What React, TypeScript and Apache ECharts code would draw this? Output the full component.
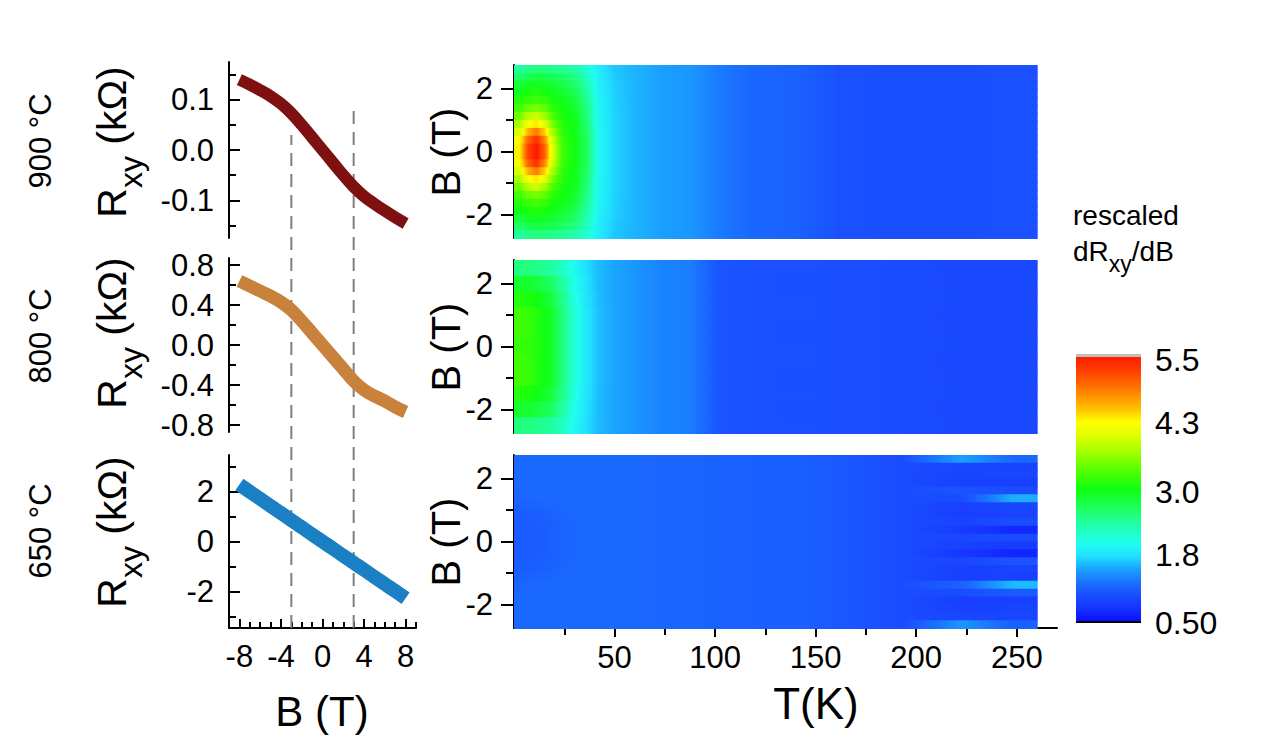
import { useEffect, useRef } from 'react';
import * as echarts from 'echarts';

const FONT = '"Liberation Sans", Arial, Helvetica, sans-serif';

// ---------- Left column: Hall resistance R_xy (kΩ) vs B (T) ----------
const fieldB = [-8, -7, -6, -5, -4, -3, -2, -1, 0, 1, 2, 3, 4, 5, 6, 7, 8];
const rxy900 = [0.140, 0.130, 0.119, 0.107, 0.092, 0.073, 0.050, 0.025, 0.000, -0.025, -0.050, -0.073, -0.092, -0.107, -0.121, -0.134, -0.146];
const rxy800 = [0.64, 0.59, 0.54, 0.49, 0.43, 0.35, 0.24, 0.12, 0.00, -0.12, -0.24, -0.36, -0.45, -0.51, -0.56, -0.62, -0.67];
const rxy650 = [2.28, 1.99, 1.71, 1.42, 1.14, 0.85, 0.57, 0.28, 0.0, -0.28, -0.57, -0.85, -1.13, -1.42, -1.70, -1.98, -2.27];
const guideB = [-3, 3];

const sampleLabels = ['900 °C', '800 °C', '650 °C'];

// ---------- Right column: rescaled dRxy/dB maps over T (K) and B (T) ----------
const tEdges = [0, 5, 9, 13, 17, 21, 27, 33, 39, 45, 55, 65, 80, 95, 110, 130, 150, 175, 210, 235, 260];
const bEdgesCoarse = [2.75, 2.25, 1.75, 1.25, 0.75, 0.25, -0.25, -0.75, -1.25, -1.75, -2.25, -2.75];
const bEdgesFine = [2.75, 2.5, 2.25, 2.0, 1.75, 1.5, 1.25, 1.0, 0.75, 0.5, 0.25, 0, -0.25, -0.5, -0.75, -1.0, -1.25, -1.5, -1.75, -2.0, -2.25, -2.5, -2.75];

// 900 °C: rows B = +2.625 ... -2.625 ; first 10 columns (T < 55 K) per row
const map900Low = [
  [2.35, 2.45, 2.50, 2.50, 2.45, 2.40, 2.32, 2.12, 1.84, 1.65],
  [2.60, 2.70, 2.75, 2.72, 2.68, 2.60, 2.48, 2.22, 1.86, 1.66],
  [2.80, 2.90, 2.95, 2.90, 2.85, 2.75, 2.60, 2.30, 1.88, 1.68],
  [2.95, 3.05, 3.10, 3.05, 2.95, 2.85, 2.70, 2.35, 1.90, 1.68],
  [3.10, 3.20, 3.25, 3.20, 3.05, 2.95, 2.80, 2.42, 1.91, 1.69],
  [3.25, 3.45, 3.50, 3.40, 3.15, 3.00, 2.88, 2.48, 1.92, 1.69],
  [3.45, 3.80, 3.90, 3.70, 3.30, 3.05, 2.92, 2.53, 1.93, 1.70],
  [3.70, 4.20, 4.35, 4.05, 3.50, 3.10, 2.95, 2.57, 1.94, 1.70],
  [3.95, 4.60, 4.85, 4.45, 3.70, 3.15, 2.97, 2.60, 1.95, 1.70],
  [4.20, 5.00, 5.30, 4.80, 3.90, 3.20, 3.00, 2.62, 1.95, 1.70],
  [4.30, 5.20, 5.50, 5.00, 4.00, 3.25, 3.00, 2.65, 1.95, 1.70],
  [4.30, 5.20, 5.50, 5.00, 4.00, 3.25, 3.00, 2.65, 1.95, 1.70],
  [4.20, 5.00, 5.30, 4.80, 3.90, 3.20, 3.00, 2.62, 1.95, 1.70],
  [3.95, 4.60, 4.85, 4.45, 3.70, 3.15, 2.97, 2.60, 1.95, 1.70],
  [3.70, 4.20, 4.35, 4.05, 3.50, 3.10, 2.95, 2.57, 1.94, 1.70],
  [3.45, 3.80, 3.90, 3.70, 3.30, 3.05, 2.92, 2.53, 1.93, 1.70],
  [3.25, 3.45, 3.50, 3.40, 3.15, 3.00, 2.88, 2.48, 1.92, 1.69],
  [3.10, 3.20, 3.25, 3.20, 3.05, 2.95, 2.80, 2.42, 1.91, 1.69],
  [2.95, 3.05, 3.10, 3.05, 2.95, 2.85, 2.70, 2.35, 1.90, 1.68],
  [2.80, 2.90, 2.95, 2.90, 2.85, 2.75, 2.60, 2.30, 1.88, 1.68],
  [2.60, 2.70, 2.75, 2.72, 2.68, 2.60, 2.48, 2.22, 1.86, 1.66],
  [2.35, 2.45, 2.50, 2.50, 2.45, 2.40, 2.32, 2.12, 1.84, 1.65],
];
// 900 °C: last 10 columns (T >= 55 K), same in every row
const map900High = [1.58, 1.50, 1.45, 1.30, 1.18, 1.15, 1.03, 1.02, 1.02, 1.03];

// 800 °C: rows B = +2.5 ... -2.5 (0.5 T rows)
const map800 = [
  [2.50, 2.50, 2.45, 2.40, 2.35, 2.20, 1.95, 1.75, 1.60, 1.52, 1.45, 1.36, 1.32, 1.05, 1.03, 1.03, 1.02, 1.00, 0.97, 0.96],
  [2.85, 2.85, 2.80, 2.70, 2.60, 2.35, 2.00, 1.77, 1.60, 1.52, 1.45, 1.36, 1.32, 1.05, 1.03, 1.02, 1.02, 1.00, 0.98, 0.97],
  [3.10, 3.05, 3.00, 2.90, 2.75, 2.45, 2.05, 1.78, 1.61, 1.52, 1.45, 1.36, 1.32, 1.05, 1.03, 1.03, 1.02, 1.00, 0.98, 0.96],
  [3.25, 3.20, 3.10, 3.00, 2.85, 2.50, 2.10, 1.80, 1.62, 1.52, 1.45, 1.36, 1.32, 1.05, 1.03, 1.03, 1.02, 1.00, 0.97, 0.97],
  [3.25, 3.20, 3.10, 3.00, 2.85, 2.50, 2.10, 1.80, 1.62, 1.52, 1.45, 1.36, 1.32, 1.05, 1.03, 1.02, 1.02, 1.00, 0.98, 0.96],
  [3.20, 3.15, 3.10, 3.00, 2.85, 2.50, 2.10, 1.80, 1.62, 1.52, 1.45, 1.36, 1.32, 1.05, 1.03, 1.03, 1.02, 1.00, 0.98, 0.97],
  [3.25, 3.20, 3.10, 3.00, 2.85, 2.50, 2.10, 1.80, 1.62, 1.52, 1.45, 1.36, 1.32, 1.05, 1.03, 1.03, 1.02, 1.00, 0.97, 0.96],
  [3.25, 3.20, 3.10, 3.00, 2.85, 2.50, 2.10, 1.80, 1.62, 1.52, 1.45, 1.36, 1.32, 1.05, 1.03, 1.02, 1.02, 1.00, 0.98, 0.97],
  [3.10, 3.05, 3.00, 2.90, 2.75, 2.45, 2.05, 1.78, 1.61, 1.52, 1.45, 1.36, 1.32, 1.05, 1.03, 1.03, 1.02, 1.00, 0.98, 0.96],
  [2.85, 2.85, 2.80, 2.70, 2.60, 2.35, 2.00, 1.77, 1.60, 1.52, 1.45, 1.36, 1.32, 1.05, 1.03, 1.02, 1.02, 1.00, 0.97, 0.97],
  [2.50, 2.50, 2.45, 2.40, 2.35, 2.20, 1.95, 1.75, 1.60, 1.52, 1.45, 1.36, 1.32, 1.05, 1.03, 1.03, 1.02, 1.00, 0.98, 0.96],
];

// 650 °C: rows B = +2.625 ... -2.625 (0.25 T rows)
// columns T < 33 K (per row)
const map650Low = [
  [1.20, 1.20, 1.20, 1.20, 1.20, 1.20, 1.20],
  [1.20, 1.20, 1.20, 1.20, 1.20, 1.20, 1.20],
  [1.20, 1.20, 1.20, 1.20, 1.20, 1.20, 1.20],
  [1.20, 1.20, 1.20, 1.20, 1.20, 1.20, 1.20],
  [1.19, 1.20, 1.20, 1.20, 1.20, 1.20, 1.20],
  [1.17, 1.18, 1.19, 1.20, 1.20, 1.20, 1.20],
  [1.14, 1.15, 1.16, 1.17, 1.18, 1.20, 1.20],
  [1.12, 1.12, 1.13, 1.14, 1.16, 1.18, 1.20],
  [1.11, 1.11, 1.12, 1.13, 1.15, 1.17, 1.19],
  [1.10, 1.10, 1.11, 1.12, 1.14, 1.16, 1.19],
  [1.10, 1.10, 1.11, 1.12, 1.14, 1.16, 1.18],
  [1.10, 1.10, 1.11, 1.12, 1.14, 1.16, 1.18],
  [1.10, 1.10, 1.11, 1.12, 1.14, 1.16, 1.19],
  [1.11, 1.11, 1.12, 1.13, 1.15, 1.17, 1.19],
  [1.12, 1.12, 1.13, 1.14, 1.16, 1.18, 1.20],
  [1.14, 1.15, 1.16, 1.17, 1.18, 1.20, 1.20],
  [1.17, 1.18, 1.19, 1.20, 1.20, 1.20, 1.20],
  [1.19, 1.20, 1.20, 1.20, 1.20, 1.20, 1.20],
  [1.20, 1.20, 1.20, 1.20, 1.20, 1.20, 1.20],
  [1.20, 1.20, 1.20, 1.20, 1.20, 1.20, 1.20],
  [1.20, 1.20, 1.20, 1.20, 1.20, 1.20, 1.20],
  [1.20, 1.20, 1.20, 1.20, 1.20, 1.20, 1.20],
];
// columns 33 K – 210 K (same in every row)
const map650Mid = [1.20, 1.20, 1.20, 1.20, 1.18, 1.17, 1.15, 1.14, 1.14, 1.08, 1.00];
// columns 210 K – 260 K (per row, streaks)
const map650High = [
  [1.50, 1.20], [0.95, 0.92], [0.92, 0.95], [0.90, 0.90], [1.05, 1.00], [1.00, 1.55],
  [0.90, 0.95], [0.88, 0.92], [0.92, 1.00], [0.85, 0.70], [0.95, 1.00], [0.90, 0.85],
  [0.82, 0.68], [0.95, 1.05], [0.90, 0.92], [0.88, 0.90], [1.15, 1.60], [1.00, 1.10],
  [0.88, 0.90], [0.90, 0.92], [0.95, 0.95], [1.45, 1.15],
];

const cbTicks = [0.5, 1.8, 3.0, 4.3, 5.5];
const cbColors = [
  '#0808ff', '#1530ff', '#1a4cff', '#1a70ff', '#1aa0ff', '#20e0ff', '#20ffee', '#20ffb8', '#20ff80', '#18ff45',
  '#10ff10', '#40ff05', '#78ff00', '#b0ff00', '#e0ff00', '#ffff00', '#ffc000', '#ff9000', '#ff6000', '#ff3800', '#ff1800',
];
const CB_MIN = 0.5;
const CB_MAX = 5.5;

const cbRgb = cbColors.map((h) => [parseInt(h.slice(1, 3), 16), parseInt(h.slice(3, 5), 16), parseInt(h.slice(5, 7), 16)]);
function colorFor(v: number) {
  const f = Math.min(Math.max((v - CB_MIN) / (CB_MAX - CB_MIN), 0), 1) * (cbRgb.length - 1);
  const i = Math.min(Math.floor(f), cbRgb.length - 2);
  const t = f - i;
  const c = cbRgb[i].map((x, k) => Math.round(x + (cbRgb[i + 1][k] - x) * t));
  return `rgb(${c[0]},${c[1]},${c[2]})`;
}

const tCenters = tEdges.slice(0, -1).map((t, j) => (t + tEdges[j + 1]) / 2);

function cells(rows: number[][], bEdges: number[]) {
  const out: number[][] = [];
  rows.forEach((row, i) => {
    row.forEach((v, j) => {
      const t0 = tEdges[j];
      const t1 = tEdges[j + 1];
      const c = tCenters[j];
      const vl = j > 0 ? v + ((row[j - 1] - v) * (c - t0)) / (c - tCenters[j - 1]) : v;
      const vr = j < row.length - 1 ? v + ((row[j + 1] - v) * (t1 - c)) / (tCenters[j + 1] - c) : v;
      out.push([t0, t1, bEdges[i + 1], bEdges[i], v, vl, vr]);
    });
  });
  return out;
}

const rows900 = map900Low.map((low) => [...low, ...map900High]);
const rows650 = map650Low.map((low, i) => [...low, ...map650Mid, ...map650High[i]]);

const BLACK = '#000';
const lineStyleAx = { color: BLACK, width: 2 };
const TICK_FS = 31;

function leftY(grid: number, min: number, max: number, major: number[], minor: number[], fmt: (v: number) => string) {
  return [
    {
      gridIndex: grid, type: 'value', min, max, position: 'left',
      axisLine: { show: true, onZero: false, lineStyle: lineStyleAx },
      axisTick: { show: true, inside: true, length: 11, lineStyle: lineStyleAx, customValues: major },
      axisLabel: { show: true, customValues: major, formatter: fmt, fontSize: TICK_FS, fontFamily: FONT, color: BLACK, margin: 15 },
      splitLine: { show: false },
    },
    {
      gridIndex: grid, type: 'value', min, max, position: 'left',
      axisLine: { show: false, onZero: false },
      axisTick: { show: true, inside: true, length: 7, lineStyle: lineStyleAx, customValues: minor },
      axisLabel: { show: false },
      splitLine: { show: false },
    },
  ];
}

function mapY(grid: number) {
  return [
    {
      gridIndex: grid, type: 'value', min: -2.75, max: 2.75, position: 'left',
      axisLine: { show: true, onZero: false, lineStyle: lineStyleAx },
      axisTick: { show: true, inside: false, length: 13, lineStyle: lineStyleAx, customValues: [-2, 0, 2] },
      axisLabel: { show: true, customValues: [-2, 0, 2], formatter: (v: number) => String(v), fontSize: TICK_FS, fontFamily: FONT, color: BLACK, margin: 21 },
      splitLine: { show: false },
    },
    {
      gridIndex: grid, type: 'value', min: -2.75, max: 2.75, position: 'left',
      axisLine: { show: false, onZero: false },
      axisTick: { show: true, inside: false, length: 8, lineStyle: lineStyleAx, customValues: [-1, 1] },
      axisLabel: { show: false },
      splitLine: { show: false },
    },
  ];
}

function buildOption() {
  const gridBase = { containLabel: false, outerBoundsMode: 'none' };
  const grids = [
    { left: 229, top: 62, width: 187, height: 176 },
    { left: 229, top: 258, width: 187, height: 174 },
    { left: 229, top: 455, width: 187, height: 173 },
    { left: 514, top: 65, width: 543, height: 173 },
    { left: 514, top: 260, width: 543, height: 173 },
    { left: 514, top: 455, width: 543, height: 173 },
    { left: 229, top: 62, width: 187, height: 566 },
    { left: 1076, top: 360, width: 65, height: 263 },
  ].map((g) => ({ ...gridBase, ...g }));

  const hiddenX = (grid: number, min: number, max: number) => ({ gridIndex: grid, type: 'value', min, max, show: false });

  const xAxes = [
    hiddenX(0, -9, 9),
    hiddenX(1, -9, 9),
    {
      gridIndex: 2, type: 'value', min: -9, max: 9, position: 'bottom',
      axisLine: { show: true, onZero: false, lineStyle: lineStyleAx },
      axisTick: { show: true, inside: true, length: 9, lineStyle: lineStyleAx, customValues: [-8, -4, 0, 4, 8] },
      axisLabel: { show: true, customValues: [-8, -4, 0, 4, 8], formatter: (v: number) => String(v), fontSize: TICK_FS, fontFamily: FONT, color: BLACK, margin: 13 },
      splitLine: { show: false },
    },
    {
      gridIndex: 2, type: 'value', min: -9, max: 9, position: 'bottom',
      axisLine: { show: false, onZero: false },
      axisTick: { show: true, inside: true, length: 6, lineStyle: lineStyleAx, customValues: [-9, -7, -6, -5, -3, -2, -1, 1, 2, 3, 5, 6, 7, 9] },
      axisLabel: { show: false },
      splitLine: { show: false },
    },
    hiddenX(3, 0, 270),
    hiddenX(4, 0, 270),
    {
      gridIndex: 5, type: 'value', min: 0, max: 270, position: 'bottom',
      axisLine: { show: true, onZero: false, lineStyle: lineStyleAx },
      axisTick: { show: true, inside: false, length: 9, lineStyle: lineStyleAx, customValues: [50, 100, 150, 200, 250] },
      axisLabel: { show: true, customValues: [50, 100, 150, 200, 250], formatter: (v: number) => String(v), fontSize: TICK_FS, fontFamily: FONT, color: BLACK, margin: 14 },
      splitLine: { show: false },
    },
    {
      gridIndex: 5, type: 'value', min: 0, max: 270, position: 'bottom',
      axisLine: { show: false, onZero: false },
      axisTick: { show: true, inside: false, length: 7, lineStyle: lineStyleAx, customValues: [25, 75, 125, 175, 225] },
      axisLabel: { show: false },
      splitLine: { show: false },
    },
    hiddenX(6, -9, 9),
    hiddenX(7, 0, 1),
  ];

  const yAxes = [
    ...leftY(0, -0.175, 0.175, [-0.1, 0, 0.1], [-0.15, -0.05, 0.05, 0.15], (v) => v.toFixed(1)),
    ...leftY(1, -0.87, 0.87, [-0.8, -0.4, 0, 0.4, 0.8], [-0.6, -0.2, 0.2, 0.6], (v) => v.toFixed(1)),
    ...leftY(2, -3.46, 3.46, [-2, 0, 2], [-3, -1, 1, 3], (v) => String(v)),
    ...mapY(3),
    ...mapY(4),
    ...mapY(5),
    { gridIndex: 6, type: 'value', min: 0, max: 566, show: false },
    {
      gridIndex: 7, type: 'value', min: CB_MIN, max: CB_MAX, position: 'right',
      axisLine: { show: false, onZero: false }, axisTick: { show: false }, splitLine: { show: false },
      axisLabel: { show: true, customValues: cbTicks, formatter: (v: number) => (v === 0.5 ? '0.50' : v.toFixed(1)), fontSize: 32, fontFamily: FONT, color: BLACK, margin: 14 },
    },
  ];

  const curve = (data: number[], color: string, width: number, xi: number, yi: number) => ({
    type: 'line', xAxisIndex: xi, yAxisIndex: yi, data: fieldB.map((b, i) => [b, data[i]]),
    showSymbol: false, symbol: 'none', smooth: 0.4, z: 5,
    lineStyle: { color, width, cap: 'butt', join: 'round' }, silent: true,
  });

  const guideTop = [493, 523];
  const guides = guideB.map((b, i) => ({
    type: 'line', xAxisIndex: 8, yAxisIndex: 12, data: [[b, 0], [b, guideTop[i]]],
    showSymbol: false, symbol: 'none', z: 2, silent: true,
    lineStyle: { color: '#7f7f7f', width: 2, type: [13, 8] },
  }));

  const heat = (rows: number[][], bEdges: number[], xi: number, yi: number) => ({
    type: 'custom', coordinateSystem: 'cartesian2d', xAxisIndex: xi, yAxisIndex: yi,
    dimensions: ['t0', 't1', 'b0', 'b1', 'v', 'vl', 'vr'],
    encode: { x: [0, 1], y: [2, 3] },
    data: cells(rows, bEdges), silent: true, z: 1,
    renderItem: (params: any, api: any) => {
      const a = api.coord([api.value(0), api.value(3)]);
      const b = api.coord([api.value(1), api.value(2)]);
      const v = api.value(4);
      const vl = api.value(5);
      const vr = api.value(6);
      const fill = new echarts.graphic.LinearGradient(0, 0, 1, 0, [
        { offset: 0, color: colorFor(vl) },
        { offset: 0.25, color: colorFor((vl + v) / 2) },
        { offset: 0.5, color: colorFor(v) },
        { offset: 0.75, color: colorFor((v + vr) / 2) },
        { offset: 1, color: colorFor(vr) },
      ]);
      return {
        type: 'rect',
        shape: { x: a[0], y: a[1], width: b[0] - a[0] + 0.8, height: b[1] - a[1] + 1 },
        style: { fill },
      };
    },
  });

  const series = [
    curve(rxy900, '#7e1010', 12, 0, 0),
    curve(rxy800, '#c8823c', 13, 1, 2),
    curve(rxy650, '#1b7fc4', 14, 2, 4),
    ...guides,
    heat(rows900, bEdgesFine, 4, 6),
    heat(map800, bEdgesCoarse, 5, 8),
    heat(rows650, bEdgesFine, 6, 10),
  ];

  const centered = { align: 'center', verticalAlign: 'middle', textAlign: 'center', textVerticalAlign: 'middle' };

  const rotText = (text: string, x: number, y: number, size: number) => ({
    type: 'text', x, y, rotation: Math.PI / 2, z: 100,
    style: { text, font: `${size}px ${FONT}`, fill: BLACK, ...centered },
  });

  const rxyLabel = (y: number) => ({
    type: 'text', x: 112, y, rotation: Math.PI / 2, z: 100,
    style: {
      text: '{a|R}{b|xy}{a| (kΩ)}', fill: BLACK, ...centered,
      rich: {
        a: { fontSize: 41, fontFamily: FONT, fill: BLACK },
        b: { fontSize: 32, fontFamily: FONT, fill: BLACK, padding: [38, 0, 0, 0] },
      },
    },
  });

  const graphic = [
    rotText(sampleLabels[0], 40, 141, 31),
    rotText(sampleLabels[1], 40, 336, 31),
    rotText(sampleLabels[2], 40, 531, 31),
    rxyLabel(142),
    rxyLabel(333),
    rxyLabel(532),
    rotText('B (T)', 446, 152, 40),
    rotText('B (T)', 446, 347, 40),
    rotText('B (T)', 446, 542, 40),
    { type: 'text', x: 322, y: 711, z: 100, style: { text: 'B (T)', font: `42px ${FONT}`, fill: BLACK, ...centered } },
    { type: 'text', x: 816, y: 703, z: 100, style: { text: 'T(K)', font: `44px ${FONT}`, fill: BLACK, ...centered } },
    {
      type: 'text', x: 1073, y: 215, z: 100,
      style: { text: 'rescaled', font: `28px ${FONT}`, fill: BLACK, align: 'left', verticalAlign: 'middle', textAlign: 'left', textVerticalAlign: 'middle' },
    },
    {
      type: 'text', x: 1073, y: 251, z: 100,
      style: {
        text: '{a|dR}{b|xy}{a|/dB}', fill: BLACK, align: 'left', verticalAlign: 'middle', textAlign: 'left', textVerticalAlign: 'middle',
        rich: {
          a: { fontSize: 28, fontFamily: FONT, fill: BLACK },
          b: { fontSize: 23, fontFamily: FONT, fill: BLACK, padding: [26, 0, 0, 0] },
        },
      },
    },
    { type: 'rect', z: 100, shape: { x: 1076, y: 354, width: 65, height: 3 }, style: { fill: '#bdbdbd' } },
    { type: 'rect', z: 100, shape: { x: 1076, y: 621, width: 65, height: 2 }, style: { fill: '#000' } },
  ];

  return {
    animation: false,
    backgroundColor: '#ffffff',
    textStyle: { fontFamily: FONT },
    grid: grids,
    xAxis: xAxes,
    yAxis: yAxes,
    visualMap: {
      type: 'continuous', min: CB_MIN, max: CB_MAX, dimension: 4, seriesIndex: [5, 6, 7],
      inRange: { color: cbColors }, calculable: false, hoverLink: false, show: true,
      orient: 'vertical', left: 1076, top: 355, itemWidth: 65, itemHeight: 268, padding: 0,
      textStyle: { color: 'transparent' },
    },
    series,
    graphic,
  };
}

export default function App() {
  const ref = useRef<HTMLDivElement>(null);
  useEffect(() => {
    if (!ref.current) return;
    const chart = echarts.init(ref.current, null, { renderer: 'svg' });
    chart.setOption(buildOption() as any);
    return () => chart.dispose();
  }, []);
  return (
    <div
      ref={ref}
      style={{ position: 'absolute', left: 0, top: 0, width: 1287, height: 745, background: '#fff' }}
    />
  );
}
